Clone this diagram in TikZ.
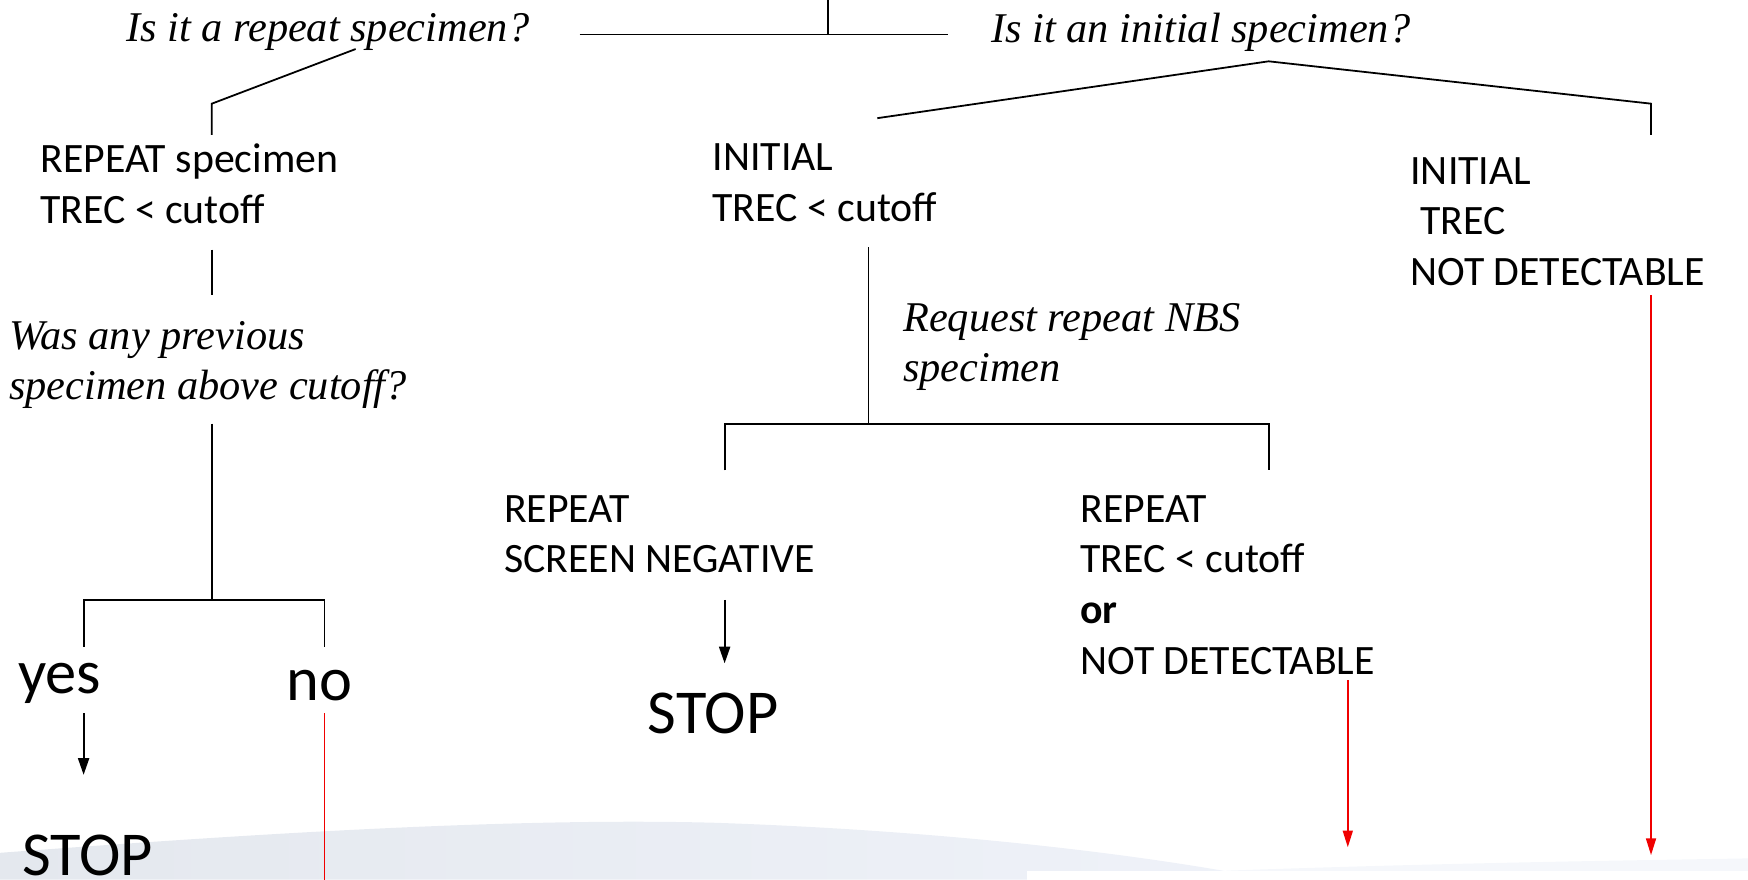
\documentclass[tikz,border=0pt]{standalone}
\usepackage{fontspec}
\setmainfont{Carlito}
\newfontfamily\qfont{Liberation Serif}
\usetikzlibrary{arrows.meta,positioning}
\definecolor{swooshL}{RGB}{228,232,238}
\definecolor{swooshR}{RGB}{239,242,249}
\definecolor{arrred}{RGB}{240,0,0}

\begin{document}
\begin{tikzpicture}[x=1pt,y=-1pt,
    every node/.style={inner sep=0pt,anchor=north west,align=left,font=\fontsize{37.5}{45.5}\selectfont},
    ques/.style={font=\qfont\itshape\fontsize{38}{45}\selectfont},
    big/.style={anchor=base west,font=\fontsize{56}{60}\selectfont},
    tree/.style={line width=1.6pt},
    blkarr/.style={line width=1.6pt,-{Triangle[length=15pt,width=10pt]}},
    redarr/.style={arrred,line width=1.4pt,-{Triangle[length=15pt,width=9pt]}}]
                \useasboundingbox (0,0) rectangle (1568,789);
                % background swoosh
                \shade[left color=swooshL,right color=swooshR] (0,789) -- (0,765) .. controls (200,750) and (450,733) .. (640,738) .. controls (850,745) and (1030,767) .. (1140,789) -- cycle;
                \fill[swooshR!60] (1100,789) -- (1100,781) .. controls (1300,774) and (1450,772) .. (1568,770) -- (1568,789) -- cycle;
                \fill[white] (921,781) rectangle (1568,789);

                \node[ques] (qrep) at (113,12) {Is it a repeat specimen?};
                \node[ques] (qinit) at (889,12) {Is it an initial specimen?};
                \node (rep) at (36,129) {REPEAT specimen\\TREC < cutoff};
                \node (init) at (639,129) {INITIAL\\TREC < cutoff};
                \node (initnd) at (1265,141) {INITIAL\\\hspace{0.23em}TREC\\NOT DETECTABLE};
                \node[ques] (prev) at (8,288) {Was any previous\\specimen above cutoff?};
                \node[ques] (req) at (810,272) {Request repeat NBS\\specimen};
                \node (rscr) at (452,444) {REPEAT\\SCREEN NEGATIVE};
                \node (rtrec) at (969,444) {REPEAT\\TREC < cutoff\\\textbf{or}\\NOT DETECTABLE};
                \node[big] (yes) at (16,622) {yes};
                \node[big] (no) at (257,628) {no};
                \node[big] (stopa) at (20,785) {STOP};
                \node[big] (stopb) at (581,658) {STOP};

                \coordinate (top) at (743,0);
                \coordinate (tj) at (743,31);
                \coordinate (tl) at (520,31);
                \coordinate (tr) at (850,31);
                \coordinate (repa) at (319,44);
                \coordinate (repb) at (190,93);
                \coordinate (repc) at (190,121);
                \coordinate (inita) at (1138,55);
                \coordinate (initb) at (787,106);
                \coordinate (initc) at (1481,93);
                \coordinate (initd) at (1481,121);
                \coordinate (preva) at (190,224);
                \coordinate (prevb) at (190,265);
                \coordinate (ynj) at (190,380);
                \coordinate (ynm) at (190,538);
                \coordinate (ynl) at (75,538);
                \coordinate (ynr) at (291,538);
                \coordinate (reqa) at (779,222);
                \coordinate (reqm) at (779,380);
                \coordinate (reql) at (650,380);
                \coordinate (reqr) at (1138,380);

                \draw [tree] (top) -- (tj);
                \draw [tree] (tl) -- (tr);
                \draw [tree] (repa) -- (repb) -- (repc);
                \draw [tree] (initb) -- (inita) -- (initc) -- (initd);
                \draw [tree] (preva) -- (prevb);
                \draw [tree] (ynj) -- (ynm);
                \draw [tree] (ynl) ++(0,42) -- (ynl) -- (ynr) -- ++(0,42);
                \draw [tree] (reqa) -- (reqm);
                \draw [tree] (reql) ++(0,42) -- (reql) -- (reqr) -- ++(0,42);

                \draw [blkarr] (75,640) -- (75,695);
                \draw [blkarr] (650,538) -- (650,595);
                \draw [arrred,line width=1.4pt] (291,640) -- (291,789);
                \draw [redarr] (1209,610) -- (1209,760);
                \draw [redarr] (1481,265) -- (1481,767);
            \end{tikzpicture}
\end{document}
